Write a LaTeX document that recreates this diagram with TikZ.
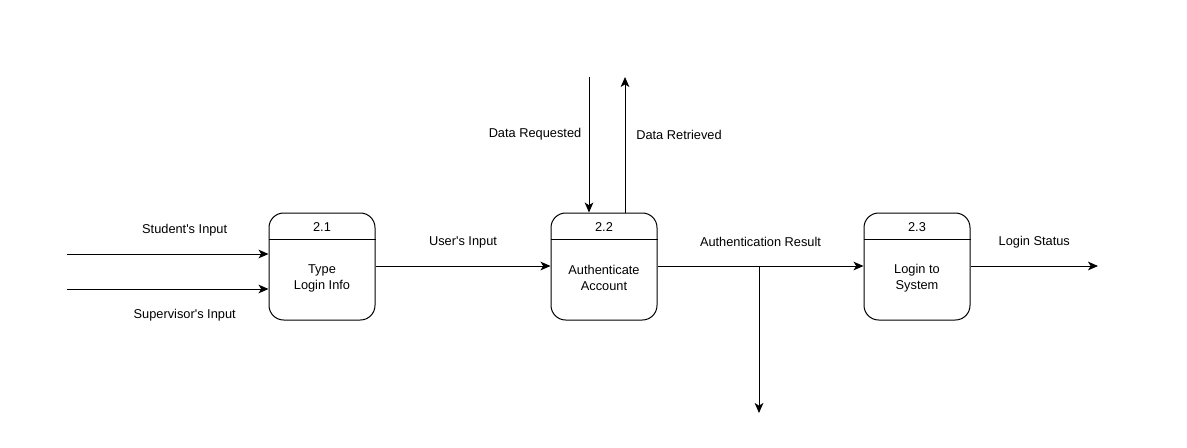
\documentclass[tikz,border=0pt]{standalone}
\usepackage{fontspec}
\setmainfont{Liberation Sans}
\usepackage{tikz}
\usetikzlibrary{arrows.meta,calc,positioning}

\begin{document}
\begin{tikzpicture}[
  x=0.75pt,y=-0.75pt,
  font=\fontsize{9.6}{12}\selectfont,
  proc/.style={draw,line width=0.75pt,rounded corners=11pt,
               minimum width=79.5pt,minimum height=80.25pt,inner sep=0pt},
  txt/.style={align=center,inner sep=0pt},
  lbl/.style={inner sep=0pt,text=black},
  flow/.style={line width=0.75pt,-{Stealth[length=7.5pt,width=6.5pt,inset=2pt]}}
]
  \useasboundingbox (0,0) rectangle (1187,447);

  % processes
  \node[proc] (p1) at (322,266.5) {};
  \node[proc] (p2) at (604,266.5) {};
  \node[proc] (p3) at (917,266.5) {};
  \foreach \p/\num/\body in {p1/2.1/{Type\\Login Info},
                             p2/2.2/{Authenticate\\Account},
                             p3/2.3/{Login to\\System}}{
    \draw[line width=0.75pt] ([yshift=-20.25pt]\p.north west) -- ([yshift=-20.25pt]\p.north east);
    \node[txt] (\p h) at ($(\p.north)+(0,14.5)$) {\num};
    \node[txt] (\p t) at ($(\p.center)+(0,11.5)$) {\body};
  }

  % free ends
  \coordinate (stu) at (67,254);
  \coordinate (sup) at (67,289);
  \coordinate (req) at (589,77);
  \coordinate (ret) at (625,77);
  \coordinate (fork) at (759,266);
  \coordinate (down) at (759,413);
  \coordinate (out) at (1098,266);

  % flows
  \draw[flow] (stu) -- node[lbl,pos=0.584,yshift=18pt]{Student\textquotesingle s Input} (stu -| p1.west);
  \draw[flow] (sup) -- node[lbl,pos=0.584,yshift=-19.5pt]{Supervisor\textquotesingle s Input} (sup -| p1.west);
  \draw[flow] (p1.east |- fork) -- node[lbl,yshift=18pt]{User\textquotesingle s Input} (p2.west |- fork);
  \draw[flow] (req) -- node[lbl,pos=0.425,xshift=-40.5pt]{Data Requested} (req |- p2.north);
  \draw[flow] (ret |- p2.north) -- node[lbl,pos=0.575,xshift=40.5pt]{Data Retrieved} (ret);
  \draw[flow] (p2.east |- fork) -- node[lbl,yshift=18pt]{Authentication Result} (p3.west |- fork);
  \draw[flow] (fork) -- (down);
  \draw[flow] (p3.east |- out) -- node[lbl,yshift=18pt]{Login Status} (out);
\end{tikzpicture}
\end{document}
